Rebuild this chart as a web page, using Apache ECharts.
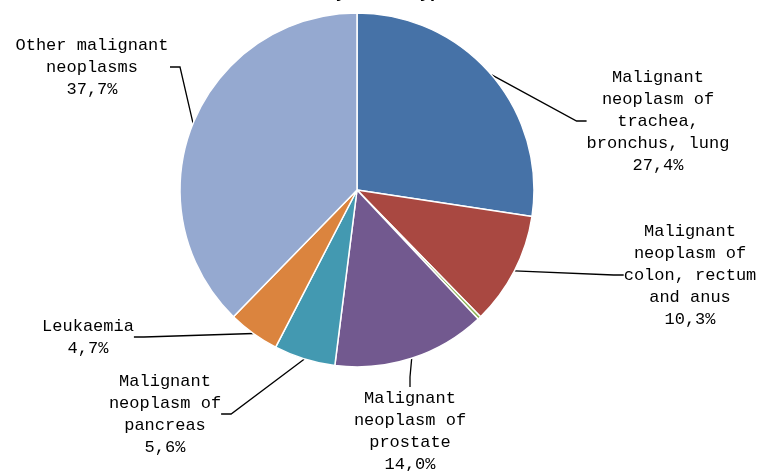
<!DOCTYPE html>
<html><head><meta charset="utf-8">
<script src="https://cdn.jsdelivr.net/npm/echarts@6/dist/echarts.min.js"></script>
<style>html,body{margin:0;padding:0;background:#fff}#c{width:761px;height:471px}</style>
</head><body><div id="c"></div>
<script>
const titleText = "Deaths by cancer type, 2016";
const categories = [
  "Malignant\nneoplasm of\ntrachea,\nbronchus, lung",
  "Malignant\nneoplasm of\ncolon, rectum\nand anus",
  "Other",
  "Malignant\nneoplasm of\nprostate",
  "Malignant\nneoplasm of\npancreas",
  "Leukaemia",
  "Other malignant\nneoplasms"
];
const values = [27.4, 10.3, 0.3, 14.0, 5.6, 4.7, 37.7];
const colors = ["#4672A7", "#A94841", "#8DB457", "#72598F", "#4399B1", "#DB843E", "#95A9D0"];
const showLabel = [true, true, false, true, true, true, true];
const labelPos = [[658,121],[690,275],[0,0],[410,431],[165,414],[88,337],[92,67]];
const labelWidth = [null, null, null, null, null, null, 156];

const chart = echarts.init(document.getElementById('c'));
chart.setOption({
  animation: false,
  title: { text: titleText, left: 'center', top: -22,
    textStyle: { fontFamily: 'Liberation Sans', fontWeight: 'bold', fontSize: 18, color: '#000' } },
  series: [{
    type: 'pie',
    center: [357, 190],
    radius: 177,
    startAngle: 90,
    clockwise: true,
    itemStyle: { borderColor: '#fff', borderWidth: 1.5 },
    label: {
      show: true,
      fontFamily: 'Liberation Mono',
      fontSize: 17,
      lineHeight: 22,
      color: '#000',
      align: 'center',
      overflow: 'none',
      formatter: p => p.name + '\n' + p.value.toFixed(1).replace('.', ',') + '%'
    },
    labelLine: { show: true, length: 20, length2: 10, smooth: false, lineStyle: { color: '#000', width: 1.3 } },
    labelLayout: p => {
      const pos = labelPos[p.dataIndex];
      return { x: pos[0], y: pos[1], align: 'center', verticalAlign: 'middle' };
    },
    data: values.map((v, i) => {
      const lbl = { show: showLabel[i] };
      if (labelWidth[i]) lbl.width = labelWidth[i];
      return {
        name: categories[i], value: v,
        itemStyle: { color: colors[i] },
        label: lbl,
        labelLine: { show: showLabel[i] }
      };
    })
  }]
});
</script></body></html>
